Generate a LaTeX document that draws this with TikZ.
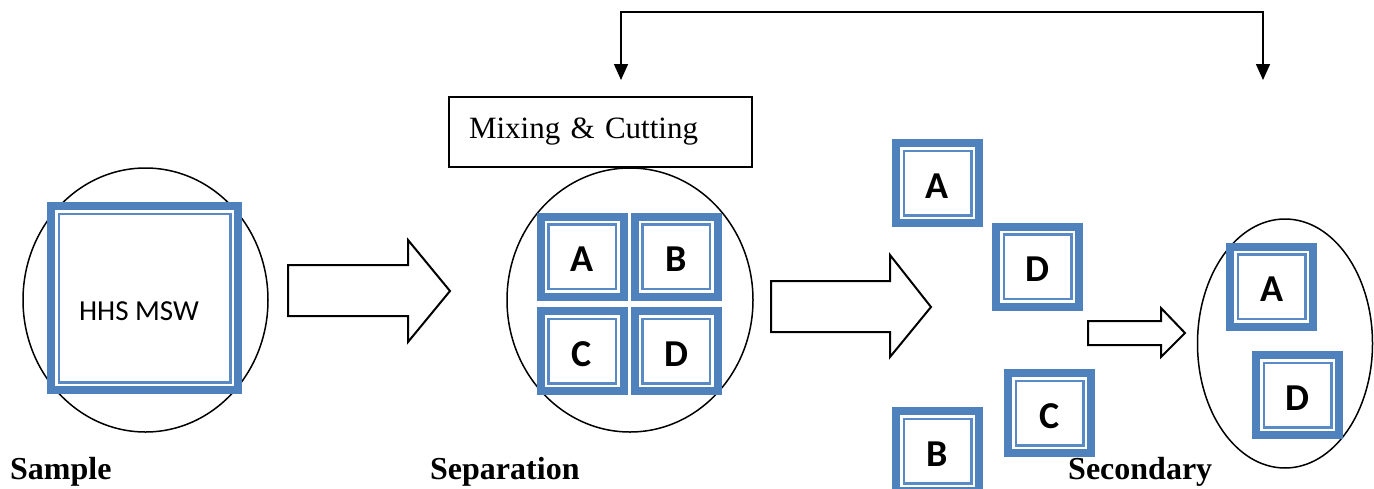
\documentclass[tikz,border=0pt]{standalone}
\usepackage{fontspec}
\setmainfont{Liberation Serif}
\newfontfamily\tilefont{Carlito}
\usetikzlibrary{arrows.meta,shapes.geometric}
\definecolor{tileblue}{HTML}{4F81BD}
\definecolor{tileline}{HTML}{5A8AC6}
\begin{document}
\begin{tikzpicture}[x=1pt,y=-1pt,
  % square tile: thick blue frame with a thin blue line inside it
  tile/.style={draw=tileblue, line width=8pt, fill=white, inner sep=0pt,
    minimum width=83pt, minimum height=80pt, text height=30pt, text depth=0pt,
    font=\tilefont\bfseries\fontsize{38}{42}\selectfont,
    path picture={\draw[tileline, line width=2.5pt]
      ([shift={(7.75pt,7.75pt)}]path picture bounding box.south west) rectangle
      ([shift={(-7.75pt,-7.75pt)}]path picture bounding box.north east);}},
  bigtile/.style={tile, minimum width=187pt, minimum height=184pt},
  ring/.style={draw=black, line width=1.5pt, ellipse, inner sep=0pt},
  blockarrow/.style={draw=black, line width=2pt, fill=white, line join=miter},
  stagelabel/.style={anchor=base west, inner sep=0pt,
    font=\bfseries\fontsize{32}{36}\selectfont},
  stepbox/.style={draw=black, line width=1.5pt, minimum width=303pt,
    minimum height=70pt, inner xsep=20pt, inner ysep=0pt, text width=263pt,
    align=left, font=\fontsize{31}{35}\selectfont},
  link/.style={draw=black, line width=1.5pt,
    {Triangle[width=14pt,length=16pt]}-{Triangle[width=14pt,length=16pt]}}
]
\useasboundingbox (0,0) rectangle (1374,488);
\clip (0,0) rectangle (1374,488);

% Sample
\node[ring, minimum width=245pt, minimum height=264pt] (samplering) at (145.5,300) {};
\node[bigtile] (msw) at (144.5,298) {};
\node[inner sep=0pt, font=\tilefont\fontsize{29}{33}\selectfont] (mswtext) at (139,311) {HHS MSW};
\node[stagelabel] (sample) at (10,479) {Sample};

% first block arrow
\draw[blockarrow] (288,265) -- (408,265) -- (408,240) -- (450,291) -- (408,342)
  -- (408,316) -- (288,316) -- cycle;

% Separation
\node[stepbox] (mix) at (600.5,132) {Mixing \& Cutting};
\node[ring, minimum width=246pt, minimum height=264pt] (sepring) at (630,300) {};
\node[tile] (sa) at (582,256.5) {A};
\node[tile] (sb) at (676,256.5) {B};
\node[tile] (sc) at (582,351) {C};
\node[tile] (sd) at (676,351) {D};
\node[stagelabel] (separation) at (430,479) {Separation};

% second block arrow
\draw[blockarrow] (771,281) -- (890,281) -- (890,255) -- (931,307) -- (890,357)
  -- (890,332) -- (771,332) -- cycle;

% separated fractions
\node[tile] (fa) at (937.5,183) {A};
\node[tile] (fd) at (1037.5,266.5) {D};
\node[tile] (fc) at (1049.5,413) {C};
\node[tile] (fb) at (937.5,451) {B};

% third block arrow
\draw[blockarrow] (1088,321) -- (1161,321) -- (1161,308) -- (1185,333) -- (1161,357)
  -- (1161,345) -- (1088,345) -- cycle;

% Secondary
\node[ring, minimum width=175pt, minimum height=249pt] (secring) at (1285,343.5) {};
\node[tile] (xa) at (1271.5,286.5) {A};
\node[tile] (xd) at (1297.5,395) {D};
\node[stagelabel] (secondary) at (1068,479) {Secondary};

% feedback connector over the top
\coordinate (mixin) at (621,80);
\coordinate (secin) at (1263,80);
\coordinate (bendl) at (621,12);
\coordinate (bendr) at (1263,12);
\draw[link] (mixin) -- (bendl) -- (bendr) -- (secin);
\end{tikzpicture}
\end{document}
